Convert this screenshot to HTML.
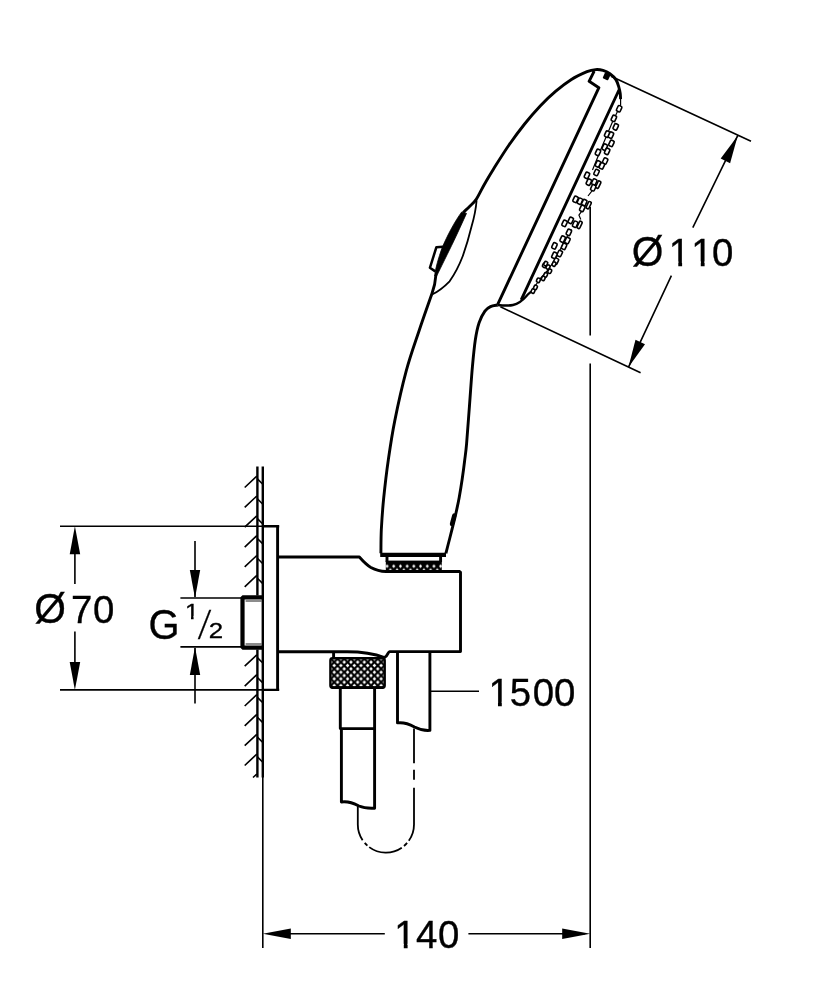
<!DOCTYPE html>
<html><head><meta charset="utf-8"><title>Drawing</title>
<style>
html,body{margin:0;padding:0;background:#fff;}
svg{display:block;will-change:transform;}
text{font-family:"Liberation Sans",sans-serif;fill:#000;stroke:#000;stroke-width:0.35px;}
</style></head><body>
<svg width="834" height="1000" viewBox="0 0 834 1000">
<defs>
<pattern id="kn" width="6.7" height="6.7" patternUnits="userSpaceOnUse" patternTransform="translate(330.85 655.45)">
<rect width="6.7" height="6.7" fill="#000"/>
<path d="M3.35 1.55L5.15 3.35L3.35 5.15L1.55 3.35Z M0 4.9L1.8 6.7L0 6.7Z M0 0L1.8 0L0 1.8Z M6.7 0L4.9 0L6.7 1.8Z M6.7 6.7L4.9 6.7L6.7 4.9Z" fill="#fff"/>
</pattern>
<pattern id="kn2" width="6.7" height="11" patternUnits="userSpaceOnUse" patternTransform="translate(383.7 560.6)">
<rect width="6.7" height="11" fill="#000"/>
<path d="M3.35 3.8L4.95 5.6L3.35 7.4L1.75 5.6Z M0 7.6L1.7 10L0 10Z M6.7 7.6L5 10L6.7 10Z" fill="#fff"/>
</pattern>
</defs>
<rect width="834" height="1000" fill="#fff"/>
<!-- dimension / extension lines -->
<path d="M262.8 777V948 M60 526.25H263 M60 689.9H263 M74.9 540V584 M74.9 631.5V676 M180.4 598H241 M180.4 646.9H241 M195 541V597 M195 648V703.5 M430.4 691.2H479 M590.2 948V363.5 M590.2 335.5V207 M270 933.7H384.8 M468.4 933.7H585 M611 76.3L751 141.2 M500.4 306.8L640.6 372.8 M737.7 135.7L692.8 227.6 M628.4 367.3L671.4 275.6" fill="none" stroke="#000" stroke-width="1.6"/>
<!-- wall -->
<path d="M257.4 466.5V595.5 M257.4 649.5V777.6 M262.8 466.5V777.6" fill="none" stroke="#000" stroke-width="2.4"/>
<path d="M244.7 487.5 L256.8 476.1 M257.4 478.9 L262.8 484.3 M244.7 507.4 L256.8 496.0 M257.4 498.8 L262.8 504.2 M244.7 527.2 L256.8 515.8 M257.4 518.6 L262.8 524.0 M244.7 547.1 L256.8 535.7 M257.4 538.5 L262.8 543.9 M244.7 566.9 L256.8 555.5 M257.4 558.3 L262.8 563.7 M244.7 586.8 L256.8 575.4 M257.4 578.2 L262.8 583.6 M244.7 666.2 L256.8 654.8 M257.4 657.6 L262.8 663.0 M244.7 686.1 L256.8 674.7 M257.4 677.5 L262.8 682.9 M244.7 706.0 L256.8 694.6 M257.4 697.4 L262.8 702.8 M244.7 725.8 L256.8 714.4 M257.4 717.2 L262.8 722.6 M244.7 745.7 L256.8 734.3 M257.4 737.1 L262.8 742.5 M244.7 765.5 L256.8 754.1 M257.4 756.9 L262.8 762.3 M253.0 777.5 L256.8 774.0" fill="none" stroke="#000" stroke-width="1.6"/>
<g fill="#000"><polygon points="74.9,526.2 80.2,554.2 69.7,554.2"/><polygon points="74.9,689.9 69.7,661.9 80.2,661.9"/><polygon points="195.0,598.0 189.8,570.0 200.2,570.0"/><polygon points="195.0,646.9 200.2,674.9 189.8,674.9"/><polygon points="262.8,933.7 290.8,928.5 290.8,939.0"/><polygon points="590.2,933.7 562.2,939.0 562.2,928.5"/><polygon points="737.7,135.7 730.1,163.2 720.7,158.6"/><polygon points="628.4,367.3 635.5,339.7 645.0,344.2"/></g>
<!-- phantom hose loop -->
<path d="M414 728.5V763.2M414 769.7V779.8M414 787.7V824.5A28.1 28.1 0 0 1 408.8 840.8M407.1 842.9A28.1 28.1 0 0 1 404.0 846.0M401.8 847.7A28.1 28.1 0 0 1 369.2 847.1M367.4 845.6A28.1 28.1 0 0 1 364.7 842.9M362.6 840.2A28.1 28.1 0 0 1 357.8 824.5V806" fill="none" stroke="#000" stroke-width="1.8"/>
<!-- button -->
<path d="M461.7 212C455 221 447 236 441.9 248.3C438.5 258 435.5 268 434.6 275.8L436.8 275.8C441 267 448 253 454 240.6C459 230 463 221 466.5 213.4Z" fill="#000" stroke="#000" stroke-width="0.8" stroke-linejoin="round"/>
<path d="M443 246.8L436.4 247.2L429.9 267.8L435.3 271.4" fill="none" stroke="#000" stroke-width="2.5" stroke-linejoin="round"/>
<path d="M476.6 200.5C476 208 474 218 471.6 226.3C469 237 466 247 462.8 256C459 266 454 275 449.6 281.3C445 286 439 291 432.5 294.3" fill="none" stroke="#000" stroke-width="1.8"/>
<!-- face + nozzles -->
<path d="M620.6 99L620.6 105L612 123L601 149L592.5 170M593.8 188.7L588 196M582.3 210.3L578.9 215.1L580.8 219.4M571.7 229.5L565 240L556 258L548 270L540 279L531.2 291.6" fill="none" stroke="#000" stroke-width="1.2" stroke-linejoin="round"/>
<g fill="#fff" stroke="#000" stroke-width="1.6"><rect x="617.1" y="105.7" width="4.1" height="6.0" rx="1.2" transform="rotate(25 619.1 108.7)"/><rect x="611.8" y="115.3" width="4.1" height="6.0" rx="1.2" transform="rotate(25 613.8 118.3)"/><rect x="613.7" y="123.9" width="4.1" height="6.0" rx="1.2" transform="rotate(25 615.7 126.9)"/><rect x="605.1" y="131.1" width="4.1" height="6.0" rx="1.2" transform="rotate(25 607.1 134.1)"/><rect x="608.9" y="132.1" width="4.1" height="6.0" rx="1.2" transform="rotate(25 610.9 135.1)"/><rect x="609.4" y="140.3" width="4.1" height="6.0" rx="1.2" transform="rotate(25 611.4 143.3)"/><rect x="602.7" y="144.1" width="4.1" height="6.0" rx="1.2" transform="rotate(25 604.7 147.1)"/><rect x="605.1" y="148.4" width="4.1" height="6.0" rx="1.2" transform="rotate(25 607.1 151.4)"/><rect x="595.9" y="149.4" width="4.1" height="6.0" rx="1.2" transform="rotate(25 597.9 152.4)"/><rect x="603.1" y="158.0" width="4.1" height="6.0" rx="1.2" transform="rotate(25 605.1 161.0)"/><rect x="595.9" y="160.9" width="4.1" height="6.0" rx="1.2" transform="rotate(25 597.9 163.9)"/><rect x="599.8" y="162.8" width="4.1" height="6.0" rx="1.2" transform="rotate(25 601.8 165.8)"/><rect x="594.5" y="169.5" width="4.1" height="6.0" rx="1.2" transform="rotate(25 596.5 172.5)"/><rect x="584.9" y="172.4" width="4.1" height="6.0" rx="1.2" transform="rotate(25 586.9 175.4)"/><rect x="586.8" y="179.1" width="4.1" height="6.0" rx="1.2" transform="rotate(25 588.8 182.1)"/><rect x="592.2" y="179.0" width="4.1" height="6.0" rx="1.2" transform="rotate(25 594.3 182.0)"/><rect x="591.2" y="184.8" width="4.1" height="6.0" rx="1.2" transform="rotate(25 593.3 187.8)"/><rect x="573.5" y="196.3" width="4.1" height="6.0" rx="1.2" transform="rotate(25 575.5 199.3)"/><rect x="577.9" y="198.2" width="4.1" height="6.0" rx="1.2" transform="rotate(25 579.9 201.2)"/><rect x="582.2" y="199.6" width="4.1" height="6.0" rx="1.2" transform="rotate(25 584.2 202.6)"/><rect x="580.2" y="205.4" width="4.1" height="6.0" rx="1.2" transform="rotate(25 582.3 208.4)"/><rect x="562.5" y="220.3" width="4.1" height="6.0" rx="1.2" transform="rotate(25 564.5 223.3)"/><rect x="568.7" y="217.4" width="4.1" height="6.0" rx="1.2" transform="rotate(25 570.7 220.4)"/><rect x="573.1" y="221.2" width="4.1" height="6.0" rx="1.2" transform="rotate(25 575.1 224.2)"/><rect x="566.8" y="229.4" width="4.1" height="6.0" rx="1.2" transform="rotate(25 568.8 232.4)"/><rect x="560.6" y="236.1" width="4.1" height="6.0" rx="1.2" transform="rotate(25 562.6 239.1)"/><rect x="565.4" y="237.5" width="4.1" height="6.0" rx="1.2" transform="rotate(25 567.4 240.5)"/><rect x="552.4" y="242.8" width="4.1" height="6.0" rx="1.2" transform="rotate(25 554.4 245.8)"/><rect x="562.0" y="243.3" width="4.1" height="6.0" rx="1.2" transform="rotate(25 564.0 246.3)"/><rect x="557.7" y="250.5" width="4.1" height="6.0" rx="1.2" transform="rotate(25 559.7 253.5)"/><rect x="552.4" y="252.4" width="4.1" height="6.0" rx="1.2" transform="rotate(25 554.4 255.4)"/><rect x="553.9" y="258.2" width="4.1" height="6.0" rx="1.2" transform="rotate(25 555.9 261.2)"/><rect x="596.8" y="180.9" width="3.0" height="7.4" rx="1" transform="rotate(25 598.3 184.6)"/><rect x="587.2" y="201.5" width="3.0" height="7.4" rx="1" transform="rotate(25 588.7 205.2)"/><rect x="578.1" y="221.2" width="3.0" height="7.4" rx="1" transform="rotate(25 579.6 224.9)"/><rect x="531.4" y="288.9" width="3.3" height="4.3" rx="1.2" transform="rotate(25 533.0 291.0)"/><rect x="533.8" y="285.2" width="3.3" height="4.3" rx="1.2" transform="rotate(25 535.4 287.4)"/><rect x="536.8" y="278.1" width="3.3" height="4.3" rx="1.2" transform="rotate(25 538.4 280.2)"/><rect x="541.6" y="276.2" width="3.3" height="4.3" rx="1.2" transform="rotate(25 543.2 278.4)"/><rect x="544.0" y="272.7" width="3.3" height="4.3" rx="1.2" transform="rotate(25 545.6 274.8)"/><rect x="542.8" y="263.1" width="3.3" height="4.3" rx="1.2" transform="rotate(25 544.4 265.2)"/><rect x="546.4" y="264.9" width="3.3" height="4.3" rx="1.2" transform="rotate(25 548.0 267.0)"/><rect x="548.1" y="269.1" width="3.3" height="4.3" rx="1.2" transform="rotate(25 549.8 271.2)"/><rect x="552.4" y="261.9" width="3.3" height="4.3" rx="1.2" transform="rotate(25 554.0 264.0)"/><rect x="544.1" y="261.5" width="3.3" height="4.3" rx="1.2" transform="rotate(25 545.8 263.6)"/></g>
<rect x="603.6" y="73" width="6" height="6.6" rx="1" fill="#000" transform="rotate(24 606.6 76.3)"/>
<path d="M454.3 515.5C453.3 519 452.8 521 452 524" fill="none" stroke="#000" stroke-width="4.4" stroke-linecap="round"/>
<!-- thread -->
<path d="M262.5 597.3H242.5V647.7H262.5" fill="none" stroke="#000" stroke-width="4.2" stroke-linejoin="bevel"/>
<path d="M245.6 601H261.5M245.6 644H261.5" fill="none" stroke="#000" stroke-width="0.9"/>
<!-- knurls -->
<rect x="385.8" y="560.6" width="56" height="11" fill="url(#kn2)"/>
<path d="M380.2 554.9H446" fill="none" stroke="#000" stroke-width="4.2"/>
<rect x="330.4" y="658.3" width="54.3" height="29.4" rx="2.2" fill="url(#kn)" stroke="#000" stroke-width="2.4"/>
<path d="M331 687.2H384.2" fill="none" stroke="#000" stroke-width="2"/>
<!-- outlines -->
<path d="M262 526.2H279.2 M262 689.9H279.2 M497.6 305C503 305.6 509 305.9 513 305C519 303.6 523 300 526 296.5C528 294 530 292.5 531.2 291.6" fill="none" stroke="#000" stroke-width="2.4"/>
<path d="M277.6 526V690.2 M277.7 557H359.4C362.5 560.5 366 564.5 370.9 567.4C375.5 569.9 380 571.3 386 571.5H459.6L460.5 572.4V651.6H389.5C388 651.6 388 656 384.5 657.5C374 653.6 362 651.8 347 651.8H277.7 M387 555V562 M440.6 555V562 M380.9 553.3C381.0 549.4 380.9 539.0 381.3 530.0C381.8 521.0 382.4 510.7 383.6 499.0C384.8 487.3 386.4 473.1 388.3 460.0C390.2 446.9 391.8 435.5 394.8 420.6C397.8 405.7 402.3 385.6 406.3 370.7C410.3 355.8 414.7 343.9 419.0 331.0C423.3 318.1 429.8 299.8 432.0 293.5 M432 293.5C434 288 435.5 281 435.9 275 M463.2 212.6C464.3 211.5 467.6 208.4 469.8 206.2C472.0 204.0 473.7 203.1 476.2 199.4C478.7 195.7 481.7 189.0 484.6 184.0C487.5 179.0 489.3 175.7 493.4 169.2C497.5 162.7 503.8 152.5 509.0 145.0C514.2 137.5 519.4 130.5 524.6 124.0C529.8 117.5 535.0 111.5 540.2 106.0C545.4 100.5 550.6 95.6 555.8 91.2C561.0 86.8 566.2 82.8 571.4 79.5C576.6 76.2 583.0 73.4 587.0 71.7C591.0 70.0 592.8 69.8 595.5 69.6C598.2 69.4 600.6 69.7 603.0 70.4C605.4 71.1 607.8 72.2 609.9 73.7C612.0 75.2 614.4 77.3 615.9 79.6C617.4 81.9 618.2 85.0 618.9 87.3C619.6 89.6 619.9 91.2 620.2 93.2C620.5 95.2 620.5 98.2 620.6 99.2 M594.2 71.1L589.1 81.3L598.9 87.7L497.6 304.6 M497.6 305.0C496.4 305.3 492.6 305.6 490.5 306.6C488.4 307.6 486.8 308.4 484.9 311.1C483.0 313.8 480.7 317.9 479.1 322.7C477.5 327.5 476.4 332.6 475.3 340.0C474.2 347.4 473.4 355.9 472.4 366.8C471.4 377.7 470.5 392.5 469.5 405.3C468.5 418.1 467.4 434.4 466.6 443.7C465.8 453.0 465.3 455.1 464.6 461.0C463.9 466.9 463.1 472.9 462.2 479.0C461.3 485.1 460.2 491.9 459.2 497.5C458.2 503.1 457.1 507.8 456.1 512.5C455.1 517.2 454.1 521.2 453.0 525.5C451.9 529.8 450.9 533.9 449.7 538.5C448.5 543.1 446.5 550.8 445.9 553.3 M619.2 89.5L521.2 299.8 M340.3 688V728.6H374.7 M341.4 728.6V802C349 801 354 803.5 359 806C364 808.3 369 808.5 374.6 808.2V688 M397.5 651V722.9C405 722 410 724.5 414.5 727C420 729.8 425 730.8 429.9 730.4V651 M333.6 651.4V658" fill="none" stroke="#000" stroke-width="2.9" stroke-linejoin="round"/>
<text transform="scale(0.970 1)" y="265.6"><tspan x="651.22" font-size="42">Ø</tspan><tspan x="689.53 712.72 734.13" font-size="39.6">110</tspan></text>
<text transform="scale(0.970 1)" y="623.0"><tspan x="35.35" font-size="42">Ø</tspan><tspan x="73.12 95.98" font-size="39.6">70</tspan></text>
<text transform="scale(0.950 1)" x="156.41" y="638.8" font-size="42.0">G</text>
<text transform="scale(1.100 1)" x="168.17" y="618.8" font-size="22.5">1</text>
<text transform="scale(0.630 1)" x="322.81" y="638.6" font-size="42.0">⁄</text>
<text transform="scale(1.200 1)" x="173.93" y="638.4" font-size="21.5">2</text>
<text transform="scale(0.970 1)" x="503.65 525.43 549.28 571.24" y="706.0" font-size="39.6">1500</text>
<text transform="scale(0.970 1)" x="406.54 428.78 451.45" y="948.1" font-size="39.6">140</text>
<g fill="#fff"><rect x="669.61" y="261.33" width="8.67" height="6.37"/><rect x="682.10" y="261.33" width="8.45" height="6.37"/><rect x="692.11" y="261.33" width="8.67" height="6.37"/><rect x="704.60" y="261.33" width="8.45" height="6.37"/><rect x="185.23" y="615.91" width="5.76" height="4.89"/><rect x="193.60" y="615.91" width="5.45" height="4.89"/><rect x="489.31" y="701.73" width="8.67" height="6.37"/><rect x="501.80" y="701.73" width="8.45" height="6.37"/><rect x="395.11" y="943.83" width="8.67" height="6.37"/><rect x="407.60" y="943.83" width="8.45" height="6.37"/></g>
</svg>
</body></html>
